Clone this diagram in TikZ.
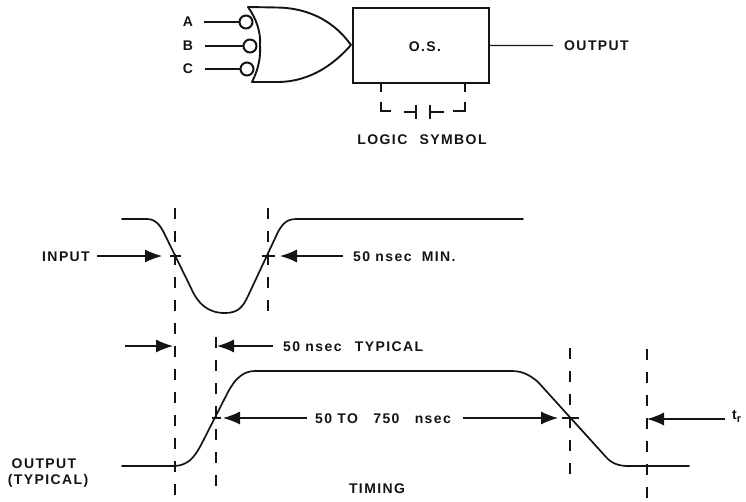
\documentclass[tikz,border=0pt]{standalone}
\usepackage{fontspec}
\setmainfont{Liberation Sans}
\usetikzlibrary{arrows.meta}
\definecolor{ink}{HTML}{141414}
\tikzset{
 wire/.style={line width=1.2pt,draw=ink},
 heavy/.style={line width=1.9pt,draw=ink,line cap=round,line join=round},
 wave/.style={line width=1.7pt,draw=ink,line cap=round},
 dashv/.style={line width=1.3pt,draw=ink,dash pattern=on 11pt off 12pt},
 tick/.style={line width=1.2pt,draw=ink},
 arr/.style={line width=1.2pt,draw=ink,-{Latex[length=17pt,width=13pt]}},
 lab/.style={font=\fontsize{14}{16}\selectfont\addfontfeature{LetterSpace=10}\bfseries,text=ink,inner sep=0pt,anchor=center},
 bubble/.style={circle,draw=ink,line width=2pt,minimum size=13pt,inner sep=0pt,fill=white},
 osbox/.style={rectangle,draw=ink,line width=1.9pt,minimum width=136pt,minimum height=75pt,inner sep=0pt,anchor=north west}
}
\begin{document}
\begin{tikzpicture}[x=1pt,y=-1pt]
\useasboundingbox (0,0) rectangle (746,501);
% logic symbol
\node[osbox] (os) at (352,7) {};
\node[lab] (ostext) at (425,47) {O.S.};
\coordinate (gt) at (248,7);
\coordinate (gb) at (252,82);
\coordinate (gm) at (260,45);
\coordinate (apex) at (351,45);
\draw[heavy] (gt) .. controls (256,18) and (261,32) .. (gm) .. controls (261,60) and (257,72) .. (gb);
\draw[heavy] (gt) -- (277,7.5) .. controls (312,8) and (336,24) .. (apex) .. controls (336,62) and (312,82) .. (277,82) -- (gb);
\node[lab] (la) at (188,22) {A};
\node[lab] (lb) at (188,46) {B};
\node[lab] (lc) at (188,69) {C};
\node[bubble] (ba) at (246,22) {};
\node[bubble] (bb) at (250,46) {};
\node[bubble] (bc) at (247,69) {};
\coordinate (ia) at (204,22);
\coordinate (ib) at (205,46);
\coordinate (ic) at (205,69);
\draw[wire] (ia) -- (ba.west);
\draw[wire] (ib) -- (bb.west);
\draw[wire] (ic) -- (bc.west);
\node[lab,anchor=west] (out) at (564,46) {OUTPUT};
\coordinate (oe) at (553,45.5);
\draw[wire] (os.east) -- (oe);
% capacitor / resistor dashes
\draw[tick] (381,83) -- (381,92);
\draw[tick] (381,102) -- (381,111) -- (391,111);
\draw[tick] (404,112) -- (416,112);
\draw[tick] (416,105) -- (416,119);
\draw[tick] (430,105) -- (430,119);
\draw[tick] (430,112) -- (444,112);
\draw[tick] (453,111) -- (465,111) -- (465,102);
\draw[tick] (465,92) -- (465,83);
\node[lab] (ls) at (422,140) {LOGIC\hspace{7pt} SYMBOL};
% dashed verticals
\coordinate (d1t) at (175,208); \coordinate (d1b) at (175,501);
\coordinate (d2t) at (268,208); \coordinate (d2b) at (268,312);
\coordinate (d3t) at (216,337); \coordinate (d3b) at (216,490);
\coordinate (d4t) at (570,348); \coordinate (d4b) at (570,484);
\coordinate (d5t) at (647,349); \coordinate (d5b) at (647,501);
\foreach \p in {1,...,5} \draw[dashv] (d\p t) -- (d\p b);
% input wave
\draw[wave] (122,219) -- (147,219) .. controls (156,219) and (161,226) .. (166,237)
 -- (191,288) .. controls (198,304) and (208,313) .. (225,313)
 .. controls (238,313) and (243,307) .. (248,296) -- (278,232)
 .. controls (283,223) and (287,219) .. (297,219) -- (523,219);
% output wave
\draw[wave] (122,466) -- (175,466) .. controls (188,465) and (194,458) .. (201,445)
 -- (228,392) .. controls (235,379) and (243,371) .. (255,371) -- (512,371)
 .. controls (522,371) and (530,375) .. (538,382) -- (606,457)
 .. controls (612,464) and (620,466) .. (628,466) -- (689,466);
% ticks
\draw[tick] (170,256) -- (181,256);
\draw[tick] (262,256) -- (275,256);
\draw[tick] (212,418) -- (221,418);
\draw[tick] (562,418) -- (579,418);
% labels
\node[lab,anchor=west] (inp) at (42,257) {INPUT};
\node[lab,anchor=west] (mn) at (353,257) {50 nsec\hspace{5pt} MIN.};
\node[lab,anchor=west] (ty) at (283,347) {50 nsec\hspace{8pt} TYPICAL};
\node[lab,anchor=west] (rng) at (315,419) {50 TO\hspace{10pt} 750\hspace{10pt} nsec};
\node[lab,anchor=west] (tr) at (732,416) {t\raisebox{-3pt}{\fontsize{11}{11}\selectfont r}};
\node[lab] (o1) at (44,464) {OUTPUT};
\node[lab] (o2) at (48,481) {(TYPICAL)};
\node[lab] (tm) at (377,489) {TIMING};
% arrows
\coordinate (a1s) at (125,346); \coordinate (a1e) at (173,346);
\coordinate (a2e) at (217,346);
\coordinate (a3e) at (223,418);
\coordinate (a4e) at (558,418);
\coordinate (a5e) at (647,419);
\coordinate (a6e) at (162,256);
\coordinate (a7e) at (280,256);
\coordinate (s6) at (97,256);
\coordinate (s7) at (343,256);
\coordinate (s2) at (273,346);
\coordinate (s3) at (307,418);
\coordinate (s4) at (463,418);
\coordinate (s5) at (725,419);
\draw[arr] (s6) -- (a6e);
\draw[arr] (s7) -- (a7e);
\draw[arr] (a1s) -- (a1e);
\draw[arr] (s2) -- (a2e);
\draw[arr] (s3) -- (a3e);
\draw[arr] (s4) -- (a4e);
\draw[arr] (s5) -- (a5e);
\end{tikzpicture}
\end{document}
